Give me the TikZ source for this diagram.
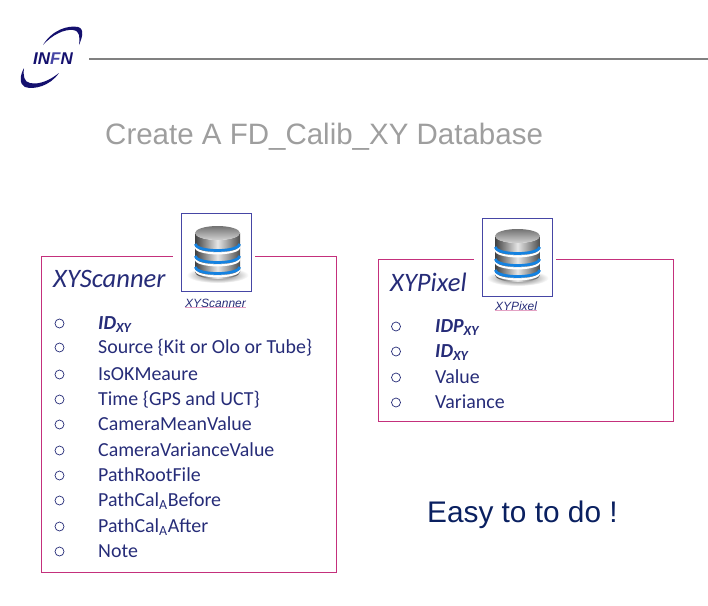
\documentclass[tikz,border=0pt]{standalone}
\usepackage{fontspec}
\setmainfont{Carlito}
\newfontfamily\arialfont{Liberation Sans}
\usetikzlibrary{shapes.geometric}
\definecolor{inkblue}{RGB}{38,44,120}
\definecolor{navyblue}{RGB}{10,32,96}
\definecolor{logoblue}{RGB}{20,16,110}
\definecolor{boxred}{RGB}{196,48,124}
\definecolor{frameblue}{RGB}{70,70,165}
\definecolor{bandblue}{RGB}{20,130,225}
\tikzstyle{table} = [draw=boxred,line width=0.9pt,minimum width=295pt,inner sep=0pt,anchor=north west]
\tikzstyle{frame} = [draw=frameblue,fill=white,line width=0.9pt,minimum width=70pt,minimum height=78pt,inner sep=0pt,anchor=north west]
\tikzstyle{gap} = [fill=white,inner sep=0pt,minimum width=82pt,minimum height=6pt]
\tikzstyle{head} = [font=\itshape\fontsize{26.6}{26}\selectfont,text=inkblue,anchor=base west,inner sep=0pt]
\tikzstyle{item} = [font=\fontsize{19.9}{20}\selectfont,text=inkblue,anchor=base west,inner sep=0pt]
\tikzstyle{dot} = [draw=inkblue,circle,line width=0.7pt,minimum size=9pt,inner sep=0pt]
\tikzstyle{caption} = [font=\arialfont\itshape\fontsize{12}{12}\selectfont,text=inkblue,inner sep=0pt]
\newcommand{\dbicon}[2]{
	\begin{scope}[shift={(#1,#2)}]
		\shade [inner color=black!65,outer color=white] (0,42) ellipse (31 and 8);
		\shade [left color=black!75,right color=black!70,middle color=black!10] (-22.5,0) arc (180:360:22.5 and -7) -- (22.5,39) arc (0:-180:22.5 and -7) -- cycle;
		\foreach \y in {11,23,34} {
			\draw [white,line width=2pt] (-22.3,\y+2.9) arc (180:360:22.3 and -6.5);
			\draw [bandblue,line width=2.7pt] (-22.3,\y) arc (180:360:22.3 and -6.5);
		}
		\shade [top color=black!55,bottom color=black!18] (0,0) ellipse (22.5 and 7);
	\end{scope}
}
\begin{document}
\begin{tikzpicture}[x=1pt,y=-1pt]
	\useasboundingbox (0,0) rectangle (708,605);
	% logo and rule
	\fill [logoblue] (43,45) .. controls (52,30) and (68,25) .. (78,27) .. controls (85,29) and (82,38) .. (79,45) .. controls (80,37) and (80,31) .. (73,30) .. controls (64,29) and (52,35) .. (43,45) -- cycle;
	\fill [logoblue] (59,73) .. controls (50,86) and (34,90) .. (25,87) .. controls (19,84) and (20,75) .. (24,68) .. controls (23,76) and (24,82) .. (30,83) .. controls (40,85) and (50,80) .. (59,73) -- cycle;
	\node (logo) [font=\arialfont\bfseries\itshape\fontsize{17}{17}\selectfont,text=logoblue,inner sep=0pt] at (53,59) {IN\textcolor{frameblue}{F}N};
	\coordinate (ruleend) at (708,59);
	\coordinate (rulestart) at (89,59);
	\draw [black!50,line width=1.5pt] (rulestart) -- (ruleend);
	\node (title) [font=\arialfont\fontsize{29.5}{30}\selectfont,text=black!38,anchor=base west,inner sep=0pt] at (105,144) {Create A FD\_Calib\_XY Database};
	% left table
	\node (scanner) [table,minimum height=316pt] at (41,256) {};
	\node (scannergap) [gap] at (214,256) {};
	\node (scannerframe) [frame] at (181,213) {};
	\dbicon{217.5}{233}
	\node (scannercap) [caption] at (215.5,303) {XYScanner};
	\draw [boxred!45,line width=0.5pt] (scannercap.south west) -- (scannercap.south east);
	\node (scannerhead) [head] at (53,287) {XYScanner};
	\foreach \name/\y/\txt in {a/329/{\textbf{\textit{ID\textsubscript{XY}}}},b/353/{Source \{Kit or Olo or Tube\}},c/380/{IsOKMeaure},d/405/{Time \{GPS and UCT\}},e/430/{CameraMeanValue},f/456/{CameraVarianceValue},g/481/{PathRootFile},h/506/{PathCal\textsubscript{A}Before},i/532/{PathCal\textsubscript{A}After},j/557/{Note}} {
		\node (dot\name) [dot] at (59.5,\y-5.5) {};
		\node (item\name) [item] at (98,\y) {\txt};
	}
	% right table
	\node (pixel) [table,minimum height=161.5pt] at (378,259) {};
	\node (pixelgap) [gap] at (515,259) {};
	\node (pixelframe) [frame] at (482,218) {};
	\dbicon{517.5}{236}
	\node (pixelcap) [caption] at (516,306) {XYPixel};
	\draw [boxred!45,line width=0.5pt] (pixelcap.south west) -- (pixelcap.south east);
	\node (pixelhead) [head] at (390,291) {XYPixel};
	\foreach \name/\y/\txt in {a/332/{\textbf{\textit{IDP\textsubscript{XY}}}},b/357/{\textbf{\textit{ID\textsubscript{XY}}}},c/383/{Value},d/408/{Variance}} {
		\node (pdot\name) [dot] at (396,\y-5.5) {};
		\node (pitem\name) [item] at (435,\y) {\txt};
	}
	\node (easy) [font=\arialfont\fontsize{29.8}{30}\selectfont,text=navyblue,anchor=base west,inner sep=0pt] at (427,522) {Easy to to do !};
\end{tikzpicture}
\end{document}
